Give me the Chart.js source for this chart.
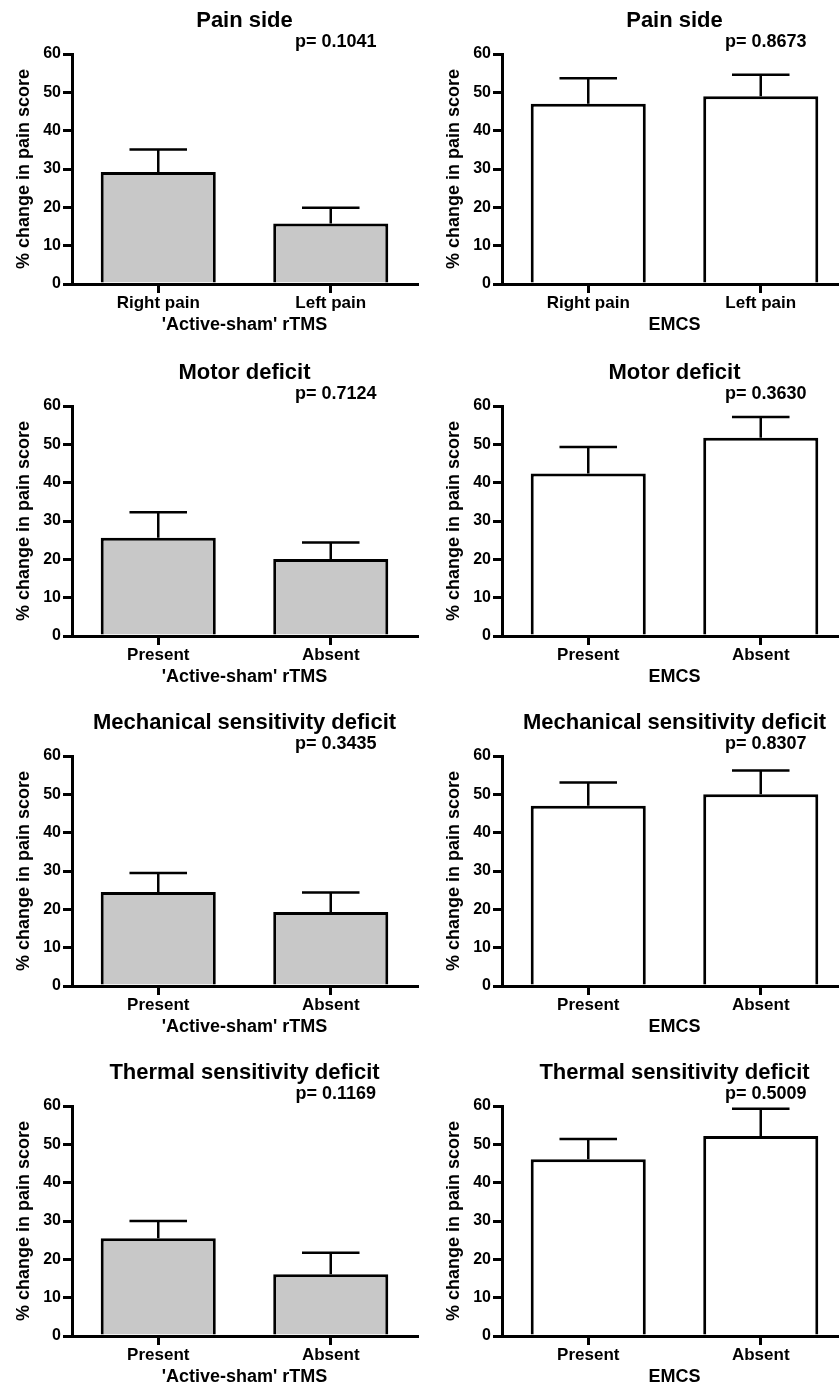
<!DOCTYPE html>
<html>
<head>
<meta charset="utf-8">
<script src="https://cdn.jsdelivr.net/npm/chart.js@4"></script>
<style>
    html, body { margin: 0; padding: 0; background: #fff; overflow: hidden; }
    body { width: 839px; height: 1387px; position: relative; }
    canvas { position: absolute; }
</style>
</head>
<body>
<script>
// данные
var panelTitles = ['Pain side', 'Motor deficit', 'Mechanical sensitivity deficit', 'Thermal sensitivity deficit'];
var painSideLabels = ['Right pain', 'Left pain'];
var deficitLabels = ['Present', 'Absent'];
var yTicks = [0, 10, 20, 30, 40, 50, 60];

var rtmsMeans = [[29.2, 15.8], [25.6, 20.1], [24.5, 19.3], [25.5, 16.1]];
var rtmsSem = [[5.9, 4.1], [6.7, 4.3], [5.0, 5.1], [4.5, 5.6]];
var rtmsP = ['0.1041', '0.7124', '0.3435', '0.1169'];

var emcsMeans = [[47.0, 49.0], [42.4, 51.7], [47.0, 50.0], [46.1, 52.2]];
var emcsSem = [[6.7, 5.6], [6.9, 5.4], [6.1, 6.2], [5.3, 7.1]];
var emcsP = ['0.8673', '0.3630', '0.8307', '0.5009'];

Chart.defaults.font.family = '"Liberation Sans", Arial, sans-serif';
Chart.defaults.color = '#000';

var rowTops = [-1, 351, 701, 1051];

function boldFont(size) {
    return { size: size, weight: 'bold', lineHeight: 1 };
}

function makeChart(left, top, title, labels, means, sem, p, xTitle, fill) {
    var canvas = document.createElement('canvas');
    canvas.width = 420;
    canvas.height = 350;
    canvas.style.left = left + 'px';
    canvas.style.top = top + 'px';
    document.body.appendChild(canvas);

    // планки погрешностей, заголовок и p
    var extras = {
        id: 'extras',
        afterDatasetsDraw: function (chart) {
            var ctx = chart.ctx;
            var y = chart.scales.y;
            var a = chart.chartArea;
            var meta = chart.getDatasetMeta(0);
            ctx.save();
            ctx.strokeStyle = '#000';
            ctx.lineWidth = 2.5;
            meta.data.forEach(function (bar, i) {
                var errTop = y.getPixelForValue(means[i] + sem[i]);
                var half = bar.width / 4;
                ctx.beginPath();
                ctx.moveTo(bar.x, bar.y);
                ctx.lineTo(bar.x, errTop);
                ctx.moveTo(bar.x - half, errTop);
                ctx.lineTo(bar.x + half, errTop);
                ctx.stroke();
            });
            ctx.fillStyle = '#000';
            ctx.textAlign = 'center';
            ctx.textBaseline = 'middle';
            ctx.font = 'bold 22px "Liberation Sans", Arial, sans-serif';
            ctx.fillText(title, (a.left + a.right) / 2, a.top - 33);
            ctx.font = 'bold 18px "Liberation Sans", Arial, sans-serif';
            ctx.fillText('p= ' + p, meta.data[1].x + 5, a.top - 12);
            ctx.restore();
        }
    };

    return new Chart(canvas.getContext('2d'), {
        type: 'bar',
        data: {
            labels: labels,
            datasets: [{
                data: means,
                backgroundColor: fill,
                borderColor: '#000',
                borderWidth: 3,
                barPercentage: 0.667,
                categoryPercentage: 1.0
            }]
        },
        options: {
            responsive: false,
            animation: false,
            layout: { padding: { top: 55, right: 3, bottom: 0, left: 0 } },
            plugins: {
                legend: { display: false },
                tooltip: { enabled: false }
            },
            scales: {
                x: {
                    offset: true,
                    afterFit: function (s) { s.height = 65; },
                    border: { color: '#000', width: 3 },
                    grid: { offset: false, drawOnChartArea: false, tickLength: 9, color: '#000', lineWidth: 3 },
                    ticks: { font: boldFont(17), padding: 2, maxRotation: 0 },
                    title: { display: true, text: xTitle, font: boldFont(18), padding: { top: 0, bottom: 15 } }
                },
                y: {
                    min: 0,
                    max: 60,
                    afterBuildTicks: function (s) {
                        s.ticks = yTicks.map(function (v) { return { value: v }; });
                    },
                    afterFit: function (s) { s.width = 72; },
                    border: { color: '#000', width: 3 },
                    grid: { drawOnChartArea: false, tickLength: 9, color: '#000', lineWidth: 3 },
                    ticks: { font: boldFont(16), padding: 2 },
                    title: { display: true, text: '% change in pain score', font: boldFont(18), padding: { top: 15, bottom: 0 } }
                }
            }
        },
        plugins: [extras]
    });
}

for (var r = 0; r < 4; r++) {
    var labels = r === 0 ? painSideLabels : deficitLabels;
    makeChart(0, rowTops[r], panelTitles[r], labels, rtmsMeans[r], rtmsSem[r], rtmsP[r], "'Active-sham' rTMS", '#c8c8c8');
    makeChart(430, rowTops[r], panelTitles[r], labels, emcsMeans[r], emcsSem[r], emcsP[r], 'EMCS', '#ffffff');
}
</script>
</body>
</html>
